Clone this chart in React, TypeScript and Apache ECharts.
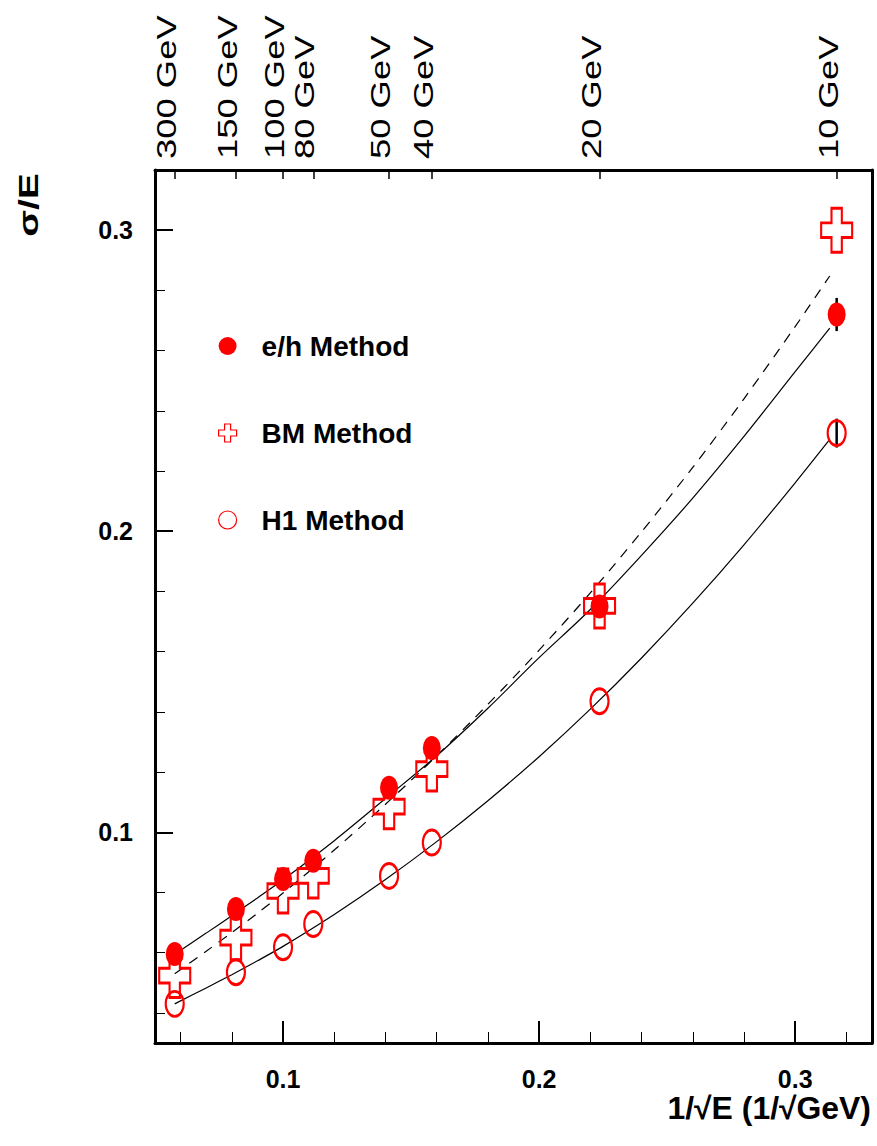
import React, { useEffect, useRef } from 'react';
import * as echarts from 'echarts';

// Beam energies (top axis) and their 1/sqrt(E) positions
const energyLabels = ['300 GeV', '150 GeV', '100 GeV', '80 GeV', '50 GeV', '40 GeV', '20 GeV', '10 GeV'];
const invSqrtE = [0.0577, 0.0816, 0.1, 0.1118, 0.1414, 0.1581, 0.2236, 0.3162];

// Measured resolutions sigma/E
const ehValues = [0.0596, 0.0745, 0.0845, 0.0905, 0.1148, 0.128, 0.175, 0.272];
const ehErrors = [0, 0, 0, 0, 0, 0, 0, 0.0055];
const bmValues = [0.0524, 0.065, 0.0805, 0.0855, 0.1085, 0.121, 0.1752, 0.3];
const h1Values = [0.043, 0.0535, 0.0618, 0.0695, 0.0855, 0.0966, 0.1435, 0.2326];
const h1Errors = [0, 0, 0, 0, 0, 0, 0, 0.0048];

// Fit curves
const fitX = [0.0577, 0.07, 0.08, 0.09, 0.1, 0.12, 0.14, 0.16, 0.18, 0.2, 0.22, 0.24, 0.26, 0.28, 0.3, 0.3135];
const ehFit = [0.0595, 0.0665, 0.0723, 0.0782, 0.0842, 0.0972, 0.1112, 0.1254, 0.1412, 0.158, 0.174, 0.192, 0.211, 0.2315, 0.253, 0.2675];
const bmFit = [0.053, 0.0605, 0.0667, 0.0731, 0.0798, 0.0941, 0.1093, 0.1254, 0.1425, 0.1605, 0.1795, 0.1998, 0.2212, 0.244, 0.268, 0.2848];
const h1Fit = [0.043, 0.0483, 0.0527, 0.0573, 0.0621, 0.0727, 0.0843, 0.0969, 0.1105, 0.1251, 0.1409, 0.1579, 0.1761, 0.1955, 0.2161, 0.2305];

// Ticks
const xMajorTicks = [0.1, 0.2, 0.3];
const xMinorTicks = [0.06, 0.08, 0.12, 0.14, 0.16, 0.18, 0.22, 0.24, 0.26, 0.28, 0.32];
const yMajorTicks = [0.1, 0.2, 0.3];
const yMinorTicks = [0.04, 0.06, 0.08, 0.12, 0.14, 0.16, 0.18, 0.22, 0.24, 0.26, 0.28];

const ELLIPSE = 'path://M0,10A10,10,0,1,1,20,10A10,10,0,1,1,0,10Z';
const CROSS = 'path://M1,0H2V1H3V2H2V3H1V2H0V1H1Z';
const RED = '#ff0000';
const NARROW = '"Liberation Sans Narrow", "Arial Narrow", "Liberation Sans", Arial, sans-serif';
const SANS = '"Liberation Sans", Arial, sans-serif';

const pairs = (xs: number[], ys: number[]) => xs.map((x, i) => [x, ys[i]]);
const triples = (xs: number[], ys: number[], es: number[]) =>
  xs.map((x, i) => [x, ys[i], es[i]]).filter((d) => d[2] > 0);

const errorBar = (params: any, api: any) => {
  const x = api.value(0);
  const y = api.value(1);
  const e = api.value(2);
  const p1 = api.coord([x, y + e]);
  const p2 = api.coord([x, y - e]);
  return {
    type: 'line',
    shape: { x1: p1[0], y1: p1[1], x2: p2[0], y2: p2[1] },
    style: { stroke: '#000', lineWidth: 2.5 },
  };
};

export default function App() {
  const ref = useRef<HTMLDivElement>(null);
  useEffect(() => {
    const chart = echarts.init(ref.current!, null, { renderer: 'svg' });
    const xBase = { type: 'value', min: 0.05, max: 0.33, splitLine: { show: false } };
    const yBase = { type: 'value', min: 0.03, max: 0.32, splitLine: { show: false } };
    chart.setOption({
      animation: false,
      backgroundColor: '#fff',
      grid: { left: 155, top: 170, width: 717, height: 873, containLabel: false },
      legend: {
        orient: 'vertical',
        left: 218,
        top: 331,
        itemWidth: 18,
        itemHeight: 25,
        itemGap: 57,
        padding: 0,
        selectedMode: false,
        textStyle: {
          fontFamily: NARROW,
          fontWeight: 'bold',
          fontSize: 28,
          color: '#000',
          lineHeight: 30,
          padding: [0, 0, 0, 20],
        },
        data: [
          { name: 'e/h Method', icon: ELLIPSE },
          { name: 'BM Method', icon: CROSS, itemStyle: { borderWidth: 1.2 } },
          { name: 'H1 Method', icon: ELLIPSE, itemStyle: { borderWidth: 1.2 } },
        ],
      },
      xAxis: [
        {
          ...xBase,
          position: 'bottom',
          axisLine: { onZero: false, lineStyle: { color: '#000', width: 3 } },
          axisTick: { inside: true, length: 22, lineStyle: { color: '#000', width: 2 }, customValues: xMajorTicks },
          axisLabel: {
            customValues: xMajorTicks,
            formatter: (v: number) => v.toFixed(1),
            margin: 23,
            fontFamily: NARROW,
            fontWeight: 'bold',
            fontSize: 25,
            color: '#000',
          },
        },
        {
          ...xBase,
          position: 'top',
          axisLine: { onZero: false, lineStyle: { color: '#000', width: 3 } },
          axisTick: { inside: true, length: 9, lineStyle: { color: '#000', width: 1.5 }, customValues: invSqrtE },
          axisLabel: { show: false },
        },
        {
          ...xBase,
          position: 'bottom',
          axisLine: { show: false, onZero: false },
          axisTick: { inside: true, length: 11, lineStyle: { color: '#000', width: 1 }, customValues: xMinorTicks },
          axisLabel: { show: false },
        },
      ],
      yAxis: [
        {
          ...yBase,
          position: 'left',
          axisLine: { onZero: false, lineStyle: { color: '#000', width: 3 } },
          axisTick: { inside: true, length: 18, lineStyle: { color: '#000', width: 2 }, customValues: yMajorTicks },
          axisLabel: {
            customValues: yMajorTicks,
            formatter: (v: number) => v.toFixed(1),
            margin: 22,
            fontFamily: NARROW,
            fontWeight: 'bold',
            fontSize: 25,
            color: '#000',
          },
        },
        {
          ...yBase,
          position: 'left',
          axisLine: { show: false, onZero: false },
          axisTick: { inside: true, length: 10, lineStyle: { color: '#000', width: 1 }, customValues: yMinorTicks },
          axisLabel: { show: false },
        },
        {
          ...yBase,
          position: 'right',
          axisLine: { onZero: false, lineStyle: { color: '#000', width: 3 } },
          axisTick: { show: false },
          axisLabel: { show: false },
        },
      ],
      series: [
        {
          name: 'e/h fit', type: 'line', data: pairs(fitX, ehFit), showSymbol: false, symbol: 'none', smooth: 0.3,
          lineStyle: { color: '#000', width: 1.2 }, silent: true, z: 2,
        },
        {
          name: 'BM fit', type: 'line', data: pairs(fitX, bmFit), showSymbol: false, symbol: 'none', smooth: 0.3,
          lineStyle: { color: '#000', width: 1.2, type: [10, 8] }, silent: true, z: 2,
        },
        {
          name: 'H1 fit', type: 'line', data: pairs(fitX, h1Fit), showSymbol: false, symbol: 'none', smooth: 0.3,
          lineStyle: { color: '#000', width: 1.2 }, silent: true, z: 2,
        },
        { name: 'e/h err', type: 'custom', renderItem: errorBar, data: triples(invSqrtE, ehValues, ehErrors), silent: true, z: 3 },
        { name: 'H1 err', type: 'custom', renderItem: errorBar, data: triples(invSqrtE, h1Values, h1Errors), silent: true, z: 3 },
        {
          name: 'BM Method', type: 'scatter', data: pairs(invSqrtE, bmValues), symbol: CROSS, symbolSize: [31, 44],
          itemStyle: { color: 'rgba(255,255,255,0)', borderColor: RED, borderWidth: 2.5, opacity: 1 }, silent: true, z: 4,
        },
        {
          name: 'H1 Method', type: 'scatter', data: pairs(invSqrtE, h1Values), symbol: ELLIPSE, symbolSize: [18, 25],
          itemStyle: { color: 'rgba(255,255,255,0)', borderColor: RED, borderWidth: 2.5, opacity: 1 }, silent: true, z: 4,
        },
        {
          name: 'e/h Method', type: 'scatter', data: pairs(invSqrtE, ehValues), symbol: ELLIPSE, symbolSize: [18, 24],
          itemStyle: { color: RED, opacity: 1 }, silent: true, z: 5,
        },
      ],
    });

    const topLabels = invSqrtE.map((x, i) => {
      const px = chart.convertToPixel({ xAxisIndex: 0 }, x) as number;
      return {
        type: 'text',
        x: px - 8.5,
        y: 159,
        rotation: Math.PI / 2,
        scaleX: 1.3,
        silent: true,
        style: {
          text: energyLabels[i],
          fontFamily: SANS,
          fontSize: 28,
          fill: '#000',
          align: 'left',
          verticalAlign: 'middle',
        },
      };
    });

    chart.setOption({
      graphic: [
        ...topLabels,
        {
          type: 'text',
          x: 28.5,
          y: 205,
          rotation: Math.PI / 2,
          scaleX: 1.45,
          silent: true,
          style: {
            text: 'σ/E',
            fontFamily: SANS,
            fontWeight: 'bold',
            fontSize: 27,
            fill: '#000',
            align: 'center',
            verticalAlign: 'middle',
          },
        },
        {
          type: 'text',
          x: 871,
          y: 1109,
          scaleX: 1.03,
          silent: true,
          style: {
            text: '1/√E (1/√GeV)',
            fontFamily: SANS,
            fontWeight: 'bold',
            fontSize: 31,
            fill: '#000',
            align: 'right',
            verticalAlign: 'middle',
          },
        },
      ],
    });

    return () => chart.dispose();
  }, []);
  return <div ref={ref} style={{ position: 'fixed', left: 0, top: 0, width: 877, height: 1146 }} />;
}
